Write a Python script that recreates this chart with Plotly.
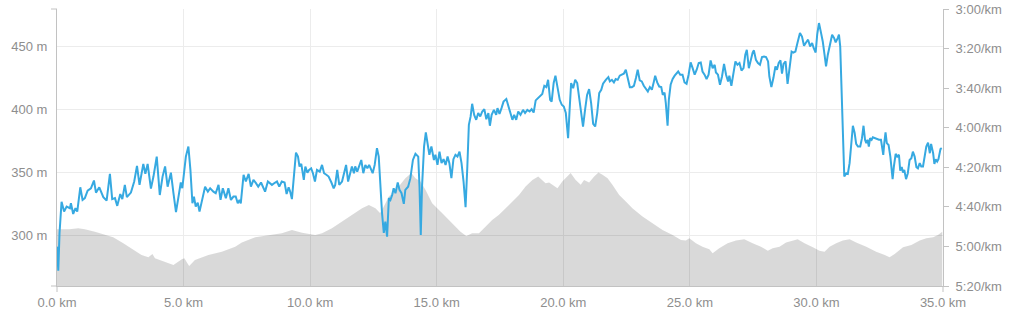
import plotly.graph_objects as go

# ---------------- pace (seconds per km) vs distance (km) ----------------
pace_km_a = [0.00, 0.05, 0.10, 0.18, 0.28, 0.38, 0.51, 0.55, 0.64, 0.73, 0.80, 0.92, 1.01, 1.10, 1.21, 1.34, 1.46, 1.54,
             1.67, 1.83, 1.96, 2.09, 2.18, 2.29, 2.38, 2.50, 2.58, 2.68, 2.76, 2.92, 3.05, 3.16, 3.26, 3.41, 3.49, 3.58,
             3.71, 3.81, 3.94, 4.06, 4.17, 4.27]
pace_s_a = [300.1, 312.3, 293.2, 277.4, 282.4, 279.9, 280.7, 278.2, 283.6, 280.7, 282.4, 270.1, 276.5, 275.6, 271.8, 270.6,
            266.7, 272.8, 270.1, 275.1, 276.8, 263.3, 276.1, 275.6, 279.5, 273.5, 276.1, 268.9, 275.1, 272.8, 267.2, 259.3,
            268.9, 258.3, 263.3, 258.3, 270.8, 264.7, 254.6, 274.0, 264.7, 259.6]

pace_km_b = [4.37, 4.50, 4.60, 4.70, 4.80, 4.89, 4.95, 5.09, 5.19, 5.27, 5.35, 5.41, 5.48, 5.56, 5.63, 5.72, 5.85, 5.96,
             6.05, 6.18, 6.27, 6.38, 6.46, 6.55, 6.67, 6.77, 6.87, 6.97, 7.06, 7.14, 7.21, 7.26, 7.37, 7.46, 7.57, 7.66,
             7.76, 7.86, 7.95, 8.06, 8.22, 8.33, 8.49, 8.62]
pace_s_b = [269.8, 262.7, 273.1, 282.7, 274.8, 267.7, 270.6, 254.6, 249.5, 261.3, 278.2, 274.8, 279.9, 277.9, 282.4, 276.5,
            269.8, 272.3, 270.6, 272.3, 273.1, 268.9, 276.5, 270.6, 275.6, 270.6, 276.5, 274.8, 274.8, 278.2, 276.5, 278.2,
            263.8, 267.2, 263.3, 269.8, 266.4, 268.0, 269.8, 267.7, 272.3, 267.2, 268.9, 267.7]

pace_km_c = [8.69, 8.78, 8.88, 8.99, 9.07, 9.15, 9.21, 9.28, 9.36, 9.44, 9.52, 9.58, 9.65, 9.75, 9.81, 9.89, 9.96, 10.04,
             10.11, 10.19, 10.27, 10.38, 10.47, 10.55, 10.64, 10.73, 10.84, 10.93, 10.99, 11.07, 11.15, 11.26, 11.34,
             11.42, 11.50, 11.59, 11.65, 11.73, 11.78, 11.86, 11.94, 12.02, 12.10, 12.18, 12.26, 12.33, 12.39, 12.47,
             12.55, 12.64, 12.71, 12.77]
pace_s_c = [267.2, 269.8, 267.2, 267.7, 273.5, 270.1, 272.3, 276.1, 263.0, 252.6, 254.6, 259.6, 258.3, 266.4, 259.6, 262.7,
            261.3, 260.5, 263.0, 267.2, 261.3, 262.2, 258.8, 263.0, 263.8, 264.7, 267.7, 270.6, 268.9, 261.3, 268.9, 267.2,
            263.0, 258.8, 267.2, 263.0, 259.6, 263.0, 259.6, 262.2, 258.8, 256.3, 263.0, 258.8, 260.5, 258.8, 260.5, 263.0,
            258.8, 250.3, 254.6, 269.8]

pace_km_d = [12.84, 12.91, 12.97, 13.04, 13.11, 13.17, 13.24, 13.30, 13.37, 13.46, 13.53, 13.61, 13.70, 13.76, 13.87,
             13.96, 14.06, 14.16, 14.27, 14.32, 14.37, 14.42, 14.50, 14.57, 14.65, 14.71, 14.79, 14.89, 14.95, 15.03,
             15.11, 15.19, 15.27, 15.35, 15.43, 15.50, 15.58, 15.66, 15.74, 15.82, 15.90, 15.98, 16.06, 16.14, 16.21,
             16.27, 16.34, 16.40, 16.48, 16.56, 16.64, 16.72, 16.80, 16.88, 16.96, 17.04, 17.10, 17.17, 17.26, 17.35]
pace_s_d = [283.2, 293.2, 287.5, 295.1, 275.6, 276.5, 274.0, 270.6, 273.1, 267.7, 271.4, 273.1, 278.5, 271.4, 269.8,
            265.5, 256.3, 253.2, 254.6, 269.8, 294.2, 269.8, 249.5, 242.4, 250.3, 253.7, 249.5, 256.3, 253.7, 258.8,
            252.1, 257.9, 255.9, 258.8, 254.6, 257.9, 265.5, 255.9, 253.7, 254.6, 252.1, 257.9, 267.2, 280.2, 259.6,
            238.5, 234.3, 227.9, 233.5, 236.0, 232.6, 234.3, 231.8, 230.6, 235.7, 232.6, 239.0, 233.5, 231.0, 233.5]

pace_km_e = [17.40, 17.48, 17.56, 17.64, 17.75, 17.83, 17.92, 17.99, 18.06, 18.14, 18.22, 18.31, 18.41, 18.49, 18.58,
             18.67, 18.75, 18.83, 18.91, 19.01, 19.11, 19.17, 19.25, 19.33, 19.40, 19.48, 19.54, 19.62, 19.69, 19.77,
             19.86, 19.94, 20.02, 20.10, 20.19, 20.25, 20.31, 20.39, 20.47, 20.55, 20.63, 20.70, 20.78, 20.86, 20.94,
             21.02, 21.10, 21.18, 21.26, 21.34, 21.42, 21.50, 21.57, 21.68]
pace_s_e = [230.1, 233.0, 230.1, 226.8, 225.5, 228.9, 231.8, 236.0, 233.5, 236.0, 231.8, 233.5, 231.0, 232.6, 231.0,
            231.8, 230.6, 232.3, 226.2, 225.0, 223.4, 222.9, 218.8, 219.5, 215.8, 225.9, 226.8, 217.4, 213.7, 219.5,
            225.9, 228.4, 229.3, 232.6, 245.3, 231.0, 217.4, 220.0, 215.8, 217.4, 225.9, 232.6, 239.4, 231.0, 223.4,
            220.5, 227.6, 238.0, 239.4, 232.6, 222.5, 220.8, 217.8, 215.8]

pace_km_f = [21.78, 21.84, 21.92, 22.00, 22.07, 22.15, 22.23, 22.31, 22.39, 22.47, 22.55, 22.63, 22.71, 22.79, 22.87,
             22.94, 23.02, 23.10, 23.18, 23.26, 23.34, 23.42, 23.50, 23.58, 23.63, 23.71, 23.79, 23.87, 23.93, 24.00,
             24.05, 24.12, 24.17, 24.24, 24.32, 24.40, 24.48, 24.54, 24.62, 24.71, 24.79, 24.87, 24.95, 25.03, 25.11,
             25.19, 25.27, 25.35, 25.43, 25.50, 25.58, 25.66, 25.74, 25.82, 25.90, 25.98]
pace_s_f = [214.4, 216.6, 215.8, 217.1, 215.4, 215.8, 213.7, 213.2, 212.7, 210.7, 215.8, 219.5, 219.5, 218.8, 214.9,
            210.7, 216.1, 216.6, 218.8, 220.5, 221.7, 219.5, 220.8, 216.6, 213.7, 217.1, 219.2, 219.5, 223.4, 222.2,
            227.6, 239.0, 225.9, 218.3, 215.4, 213.7, 212.7, 211.6, 213.2, 213.2, 217.1, 217.8, 213.2, 207.0, 209.9,
            213.2, 210.7, 207.3, 207.0, 211.6, 213.2, 215.4, 213.2, 206.0, 209.9, 208.2]

pace_km_g = [26.03, 26.11, 26.19, 26.27, 26.35, 26.43, 26.51, 26.56, 26.64, 26.72, 26.80, 26.88, 26.96, 27.04, 27.12,
             27.19, 27.25, 27.33, 27.40, 27.48, 27.53, 27.61, 27.69, 27.77, 27.85, 27.93, 28.01, 28.09, 28.14, 28.22,
             28.30, 28.38, 28.44, 28.51, 28.58, 28.64, 28.70, 28.78, 28.86, 28.94, 29.02, 29.09, 29.17, 29.25, 29.35,
             29.43, 29.51, 29.59, 29.67, 29.75, 29.83, 29.89, 29.97, 30.03, 30.10, 30.17, 30.25, 30.32, 30.38, 30.45,
             30.52, 30.62, 30.70, 30.76, 30.84, 30.89, 30.94, 30.99, 31.04, 31.10]
pace_s_g = [212.1, 213.2, 218.3, 214.1, 207.7, 213.2, 216.6, 213.7, 218.8, 213.2, 206.5, 208.2, 207.3, 211.1, 209.9,
            203.1, 200.6, 209.9, 205.7, 202.0, 200.9, 205.7, 207.3, 208.2, 204.3, 204.0, 204.3, 206.5, 214.1, 219.5,
            214.9, 209.0, 210.7, 207.3, 206.0, 212.7, 207.7, 206.5, 217.8, 209.0, 201.5, 202.0, 201.5, 197.2, 192.1,
            193.9, 198.6, 196.9, 195.5, 198.9, 197.2, 199.7, 202.0, 193.0, 187.1, 191.3, 196.4, 203.1, 209.0, 203.1,
            198.9, 193.0, 194.7, 196.9, 194.7, 193.0, 198.9, 220.8, 246.1, 264.7]

pace_km_h = [31.18, 31.24, 31.31, 31.37, 31.44, 31.51, 31.57, 31.64, 31.73, 31.80, 31.86, 31.92, 31.97, 32.02, 32.07,
             32.12, 32.18, 32.23, 32.31, 32.39, 32.47, 32.55, 32.60, 32.64, 32.68, 32.73, 32.78, 32.85, 32.92, 32.97,
             33.01, 33.06, 33.13, 33.19, 33.26, 33.31, 33.37, 33.42, 33.47, 33.54, 33.61, 33.68, 33.75, 33.81, 33.88,
             33.95, 34.01, 34.08, 34.14, 34.21, 34.28, 34.34, 34.41, 34.48, 34.53, 34.61, 34.66, 34.71, 34.77, 34.82,
             34.90, 34.95]
pace_s_h = [263.0, 263.3, 257.9, 247.8, 239.0, 242.7, 248.2, 249.5, 249.5, 245.3, 239.0, 246.1, 247.8, 246.1, 249.5,
            245.3, 246.1, 244.8, 245.3, 245.8, 246.1, 246.1, 249.5, 253.7, 247.8, 242.4, 247.8, 248.7, 254.6, 262.2,
            266.0, 259.6, 253.2, 254.6, 253.7, 261.7, 259.9, 262.7, 261.3, 266.0, 263.0, 256.3, 255.4, 252.1, 254.6,
            259.9, 260.5, 257.9, 259.6, 259.6, 253.7, 249.5, 247.5, 252.9, 248.2, 252.9, 258.3, 255.9, 257.1, 255.9,
            250.8, 250.3]

pace_km = pace_km_a + pace_km_b + pace_km_c + pace_km_d + pace_km_e + pace_km_f + pace_km_g + pace_km_h
pace_sec = pace_s_a + pace_s_b + pace_s_c + pace_s_d + pace_s_e + pace_s_f + pace_s_g + pace_s_h

# ---------------- elevation (m) vs distance (km) ----------------
elev_km = [0.00, 0.49, 0.84, 1.10, 1.50, 1.89, 2.22, 2.62, 3.02, 3.34,
           3.61, 3.77, 3.87, 4.27, 4.60, 4.93, 5.03, 5.22, 5.45, 5.98,
           6.51, 7.04, 7.30, 7.83, 8.36, 8.69, 8.88, 9.28, 9.68, 10.20,
           10.47, 10.86, 11.26, 11.65, 12.05, 12.32, 12.58, 12.76, 12.84, 13.11,
           13.50, 13.76, 14.00, 14.16, 14.36, 14.56, 14.82, 15.22, 15.61, 15.94,
           16.17, 16.40, 16.67, 16.93, 17.19, 17.46, 17.72, 17.99, 18.25, 18.51,
           18.78, 19.01, 19.17, 19.30, 19.44, 19.57, 19.77, 19.96, 20.16, 20.29,
           20.49, 20.69, 20.82, 21.02, 21.22, 21.39, 21.55, 21.75, 21.94, 22.21,
           22.47, 22.73, 23.13, 23.53, 23.92, 24.32, 24.65, 24.84, 24.98, 25.24,
           25.50, 25.77, 25.90, 26.16, 26.49, 26.82, 27.15, 27.48, 27.81, 28.08,
           28.27, 28.54, 28.80, 29.26, 29.53, 29.86, 30.12, 30.32, 30.52, 30.78,
           31.04, 31.31, 31.57, 31.97, 32.36, 32.70, 32.89, 33.09, 33.42, 33.75,
           34.08, 34.34, 34.61, 34.80, 34.97]
elev_m = [305.0, 305.0, 305.8, 305.0, 303.1, 300.5, 298.7, 293.9, 288.6, 284.6,
          282.8, 285.4, 282.0, 279.3, 276.7, 281.2, 282.0, 275.9, 280.6, 284.6,
          287.2, 291.2, 294.4, 298.7, 300.5, 301.3, 301.8, 304.4, 302.3, 300.5,
          301.8, 305.8, 311.0, 316.4, 321.7, 324.3, 321.7, 317.9, 320.3, 330.9,
          338.8, 345.5, 349.5, 345.5, 342.8, 336.2, 325.6, 317.7, 309.8, 303.1,
          299.7, 301.8, 301.8, 307.1, 312.4, 316.4, 321.7, 326.9, 332.2, 338.8,
          344.1, 346.8, 344.1, 341.5, 342.0, 340.2, 337.5, 342.8, 347.3, 349.5,
          344.1, 340.2, 344.1, 342.0, 346.8, 349.9, 348.1, 345.5, 340.2, 332.2,
          326.9, 321.7, 315.0, 309.8, 304.4, 300.5, 296.5, 296.0, 297.9, 293.9,
          291.2, 289.1, 286.0, 289.9, 293.9, 296.0, 297.1, 293.9, 291.2, 288.0,
          289.9, 291.2, 294.4, 297.1, 293.9, 290.7, 288.0, 287.2, 291.2, 293.9,
          296.0, 297.1, 294.4, 291.2, 287.2, 284.6, 282.8, 285.4, 290.7, 292.5,
          296.0, 297.9, 298.7, 300.5, 303.1]

# ---------------- axes ----------------
x_ticks = [0, 5, 10, 15, 20, 25, 30, 35]
x_ticktext = ["0.0 km", "5.0 km", "10.0 km", "15.0 km", "20.0 km", "25.0 km", "30.0 km", "35.0 km"]
elev_ticks = [300, 350, 400, 450]
elev_ticktext = ["300 m", "350 m", "400 m", "450 m"]
pace_ticks = [180, 200, 220, 240, 260, 280, 300, 320]
pace_ticktext = ["3:00/km", "3:20/km", "3:40/km", "4:00/km", "4:20/km", "4:40/km", "5:00/km", "5:20/km"]

AXIS = "#c2c2c2"
GRID = "#ececec"
TXT = "#8e8e8e"
FONT = "Liberation Sans"

fig = go.Figure()
fig.add_trace(go.Scatter(
    x=elev_km, y=elev_m, mode="lines", fill="tozeroy",
    line=dict(width=0, color="rgba(0,0,0,0)"),
    fillcolor="rgba(0,0,0,0.15)", yaxis="y", hoverinfo="skip"))
fig.add_trace(go.Scatter(
    x=pace_km, y=pace_sec, mode="lines",
    line=dict(color="#36a9e1", width=2), yaxis="y2"))

tickfont = dict(family=FONT, size=13, color=TXT)
fig.update_layout(
    width=1021, height=316,
    margin=dict(l=57, r=78, t=9, b=30, pad=0, autoexpand=False),
    paper_bgcolor="white", plot_bgcolor="white",
    showlegend=False,
    xaxis=dict(range=[0, 35], tickvals=x_ticks, ticktext=x_ticktext,
               showgrid=True, gridcolor=GRID, gridwidth=1,
               showline=True, linecolor=AXIS, linewidth=1,
               ticks="outside", ticklen=4, tickcolor="rgba(0,0,0,0)",
               zeroline=False, tickfont=tickfont, automargin=False),
    yaxis=dict(range=[260, 479.6], tickvals=elev_ticks, ticktext=elev_ticktext,
               showgrid=True, gridcolor=GRID, gridwidth=1,
               showline=True, linecolor=AXIS, linewidth=1,
               ticks="outside", ticklen=6, tickcolor="rgba(0,0,0,0)",
               zeroline=False, tickfont=tickfont, automargin=False),
    yaxis2=dict(range=[320, 180], tickvals=pace_ticks, ticktext=pace_ticktext,
                overlaying="y", side="right", showgrid=False,
                showline=True, linecolor=AXIS, linewidth=1,
                ticks="outside", ticklen=5, tickcolor=AXIS, ticklabelstandoff=4,
                zeroline=False, tickfont=tickfont, automargin=False),
)

# outer end ticks of the left and bottom axes
end_ticks = [
    dict(xref="paper", yref="paper", xsizemode="pixel", xanchor=0, x0=-6, x1=0, y0=1, y1=1),
    dict(xref="paper", yref="paper", xsizemode="pixel", xanchor=0, x0=-6, x1=0, y0=0, y1=0),
    dict(xref="paper", yref="paper", ysizemode="pixel", yanchor=0, y0=-6, y1=0, x0=0, x1=0),
    dict(xref="paper", yref="paper", ysizemode="pixel", yanchor=0, y0=-6, y1=0, x0=1, x1=1),
]
for s in end_ticks:
    fig.add_shape(type="line", line=dict(color=AXIS, width=1), **s)

fig.write_html("out.html")
